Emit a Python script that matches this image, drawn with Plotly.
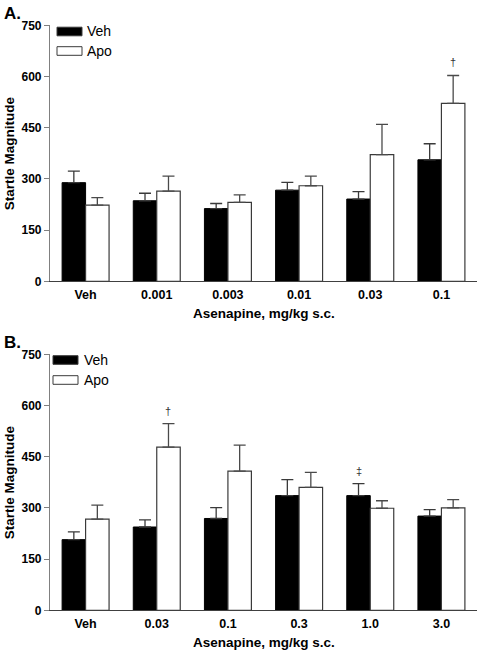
import plotly.graph_objects as go

# ---------------- data ----------------
cats_A = ["Veh", "0.001", "0.003", "0.01", "0.03", "0.1"]
veh_A = [289, 236, 213, 267, 241, 356]
veh_A_err = [34, 22, 15, 23, 22, 47]
apo_A = [223, 264, 231, 280, 371, 521]
apo_A_err = [22, 44, 22, 28, 89, 82]
sig_A_veh = ["", "", "", "", "", ""]
sig_A_apo = ["", "", "", "", "", "†"]

cats_B = ["Veh", "0.03", "0.1", "0.3", "1.0", "3.0"]
veh_B = [207, 244, 269, 336, 336, 276]
veh_B_err = [23, 21, 32, 47, 35, 19]
apo_B = [267, 478, 408, 360, 299, 300]
apo_B_err = [41, 69, 76, 44, 22, 24]
sig_B_veh = ["", "", "", "", "‡", ""]
sig_B_apo = ["", "†", "", "", "", ""]

y_ticks = [0, 150, 300, 450, 600, 750]
series_names = ["Veh", "Apo"]
x_title = "Asenapine, mg/kg s.c."
y_title = "Startle Magnitude"

# ---------------- layout helpers ----------------
W, H = 478, 650
ML, MR = 50, 1
PW = W - ML - MR
FONT = "Liberation Sans, Arial, Helvetica, sans-serif"
BARGAP = 0.34


def px(x):
    return (x - ML) / PW


def py(y):
    return 1 - y / H


fig = go.Figure()

panels = [
    dict(cats=cats_A, veh=veh_A, veh_err=veh_A_err, apo=apo_A, apo_err=apo_A_err,
         sveh=sig_A_veh, sapo=sig_A_apo, xa="x", ya="y", top=25.3, bot=281.3,
         label="A.", label_y=13, leg_x=57, leg_y=[31.5, 51], leg_tx=85),
    dict(cats=cats_B, veh=veh_B, veh_err=veh_B_err, apo=apo_B, apo_err=apo_B_err,
         sveh=sig_B_veh, sapo=sig_B_apo, xa="x2", ya="y2", top=354.3, bot=610.3,
         label="B.", label_y=342, leg_x=53, leg_y=[360, 380], leg_tx=82),
]

annotations = []
shapes = []
for k, p in enumerate(panels):
    xs = list(range(len(p["cats"])))
    fig.add_trace(go.Bar(
        x=xs, y=p["veh"], name=series_names[0], xaxis=p["xa"], yaxis=p["ya"],
        offsetgroup="veh", showlegend=False,
        marker=dict(color="black", line=dict(color="black", width=1)),
        error_y=dict(type="data", array=p["veh_err"], arrayminus=[0] * len(xs),
                     symmetric=False, color="#3a3a3a", thickness=1.3, width=6),
    ))
    fig.add_trace(go.Bar(
        x=xs, y=p["apo"], name=series_names[1], xaxis=p["xa"], yaxis=p["ya"],
        offsetgroup="apo", showlegend=False,
        marker=dict(color="white", line=dict(color="#3a3a3a", width=1.2)),
        error_y=dict(type="data", array=p["apo_err"], arrayminus=[0] * len(xs),
                     symmetric=False, color="#4a4a4a", thickness=1.3, width=6),
    ))
    off = (1 - BARGAP) / 4
    for i in xs:
        for s, vals, errs, dx in ((p["sveh"], p["veh"], p["veh_err"], -off),
                                  (p["sapo"], p["apo"], p["apo_err"], off)):
            if s[i]:
                annotations.append(dict(
                    x=i + dx, y=vals[i] + errs[i], xref=p["xa"], yref=p["ya"],
                    text=s[i], showarrow=False, yanchor="bottom", yshift=5,
                    font=dict(family=FONT, size=11, color="#333333")))
    dom = [py(p["bot"]), py(p["top"])]
    axkey = "xaxis" if k == 0 else "xaxis2"
    aykey = "yaxis" if k == 0 else "yaxis2"
    fig.update_layout(**{
        axkey: dict(domain=[0, 1], anchor=p["ya"], range=[-0.5, 5.5],
                    tickvals=xs, ticktext=p["cats"], ticks="", showline=True,
                    linecolor="#404040", linewidth=1.2, showgrid=False, zeroline=False,
                    tickfont=dict(family=FONT, size=12.5, color="black", weight="bold"),
                    ticklabelstandoff=2, automargin=False),
        aykey: dict(domain=dom, anchor=p["xa"], range=[0, 750], tickvals=y_ticks,
                    ticks="outside", ticklen=5, tickcolor="#808080", tickwidth=1,
                    showline=True, linecolor="#808080", linewidth=1.2,
                    showgrid=False, zeroline=False, automargin=False,
                    tickfont=dict(family=FONT, size=12, color="black", weight="bold")),
    })
    # axis titles
    annotations.append(dict(x=0.5, y=py(p["bot"] + 32), xref="paper", yref="paper",
                            text=x_title, showarrow=False, xanchor="center", yanchor="middle",
                            font=dict(family=FONT, size=13.5, color="black", weight="bold")))
    annotations.append(dict(x=px(9), y=py((p["top"] + p["bot"]) / 2), xref="paper", yref="paper",
                            text=y_title, showarrow=False, textangle=-90,
                            xanchor="center", yanchor="middle",
                            font=dict(family=FONT, size=13.5, color="black", weight="bold")))
    # panel label
    annotations.append(dict(x=px(2), y=py(p["label_y"]), xref="paper", yref="paper",
                            text=p["label"], showarrow=False, xanchor="left", yanchor="middle",
                            font=dict(family=FONT, size=17, color="black", weight="bold")))
    # legend
    for j, (name, fill) in enumerate(zip(series_names, ["black", "white"])):
        cy = p["leg_y"][j]
        shapes.append(dict(type="rect", xref="paper", yref="paper",
                           x0=px(p["leg_x"]), x1=px(p["leg_x"] + 25),
                           y0=py(cy + 4.3), y1=py(cy - 4.3),
                           fillcolor=fill, line=dict(color="#3a3a3a", width=1)))
        annotations.append(dict(x=px(p["leg_tx"]), y=py(cy), xref="paper", yref="paper",
                                text=name, showarrow=False, xanchor="left", yanchor="middle",
                                font=dict(family=FONT, size=14, color="black")))

fig.update_layout(
    width=W, height=H, margin=dict(l=ML, r=MR, t=0, b=0),
    paper_bgcolor="white", plot_bgcolor="white",
    barmode="group", bargap=BARGAP, bargroupgap=0,
    showlegend=False, annotations=annotations, shapes=shapes,
    font=dict(family=FONT), hovermode=False,
)

fig.write_html(
    "out.html",
    config={"displayModeBar": False},
    post_script="document.body.style.margin='0';document.body.style.overflow='hidden';"
                "document.documentElement.style.overflow='hidden';",
)
